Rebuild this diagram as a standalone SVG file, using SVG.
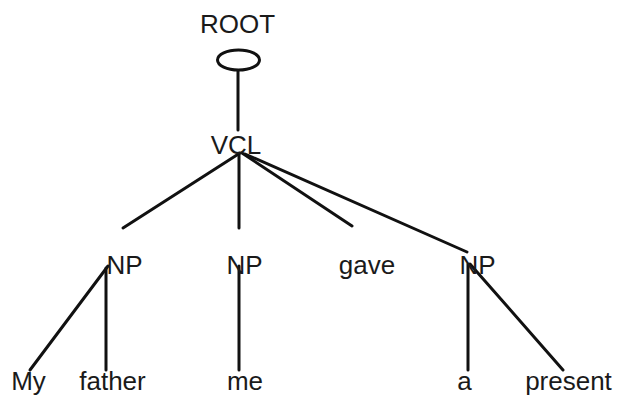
<svg xmlns="http://www.w3.org/2000/svg" width="619" height="397" viewBox="0 0 619 397">
  <style>
    text { font-family: "Liberation Sans", Arial, sans-serif; font-size: 26px; fill: #1a1a1a; text-anchor: middle; }
    .edge { stroke: #111; stroke-width: 3; stroke-linecap: round; fill: none; }
    .root-mark { stroke: #111; stroke-width: 3; fill: #fff; }
  </style>
  <rect width="619" height="397" fill="#fff"/>

  <!-- connectors -->
  <g id="edges">
    <line class="edge" x1="238" y1="70" x2="238" y2="130"/>
    <line class="edge" x1="240" y1="153" x2="123" y2="228"/>
    <line class="edge" x1="239" y1="153" x2="239" y2="228"/>
    <line class="edge" x1="242" y1="153" x2="352" y2="226"/>
    <line class="edge" x1="245" y1="154" x2="467" y2="252"/>
    <line class="edge" x1="108" y1="266" x2="30" y2="370"/>
    <line class="edge" x1="106" y1="268" x2="106" y2="370"/>
    <line class="edge" x1="239" y1="266" x2="239" y2="370"/>
    <line class="edge" x1="468" y1="264" x2="468" y2="370"/>
    <line class="edge" x1="470" y1="264" x2="563" y2="370"/>
  </g>

  <g id="root">
    <text x="237.5" y="33">ROOT</text>
    <ellipse class="root-mark" cx="238.5" cy="60" rx="21" ry="10"/>
  </g>
  <g id="vcl"><text x="236" y="154">VCL</text></g>
  <g id="np-subject"><text x="124.5" y="274">NP</text></g>
  <g id="np-indirect"><text x="244.5" y="274">NP</text></g>
  <g id="verb-gave"><text x="367" y="274">gave</text></g>
  <g id="np-direct"><text x="477.5" y="274">NP</text></g>
  <g id="word-my"><text x="28.5" y="390">My</text></g>
  <g id="word-father"><text x="112.5" y="390">father</text></g>
  <g id="word-me"><text x="245" y="390">me</text></g>
  <g id="word-a"><text x="464.5" y="390">a</text></g>
  <g id="word-present"><text x="568.5" y="390">present</text></g>
</svg>
